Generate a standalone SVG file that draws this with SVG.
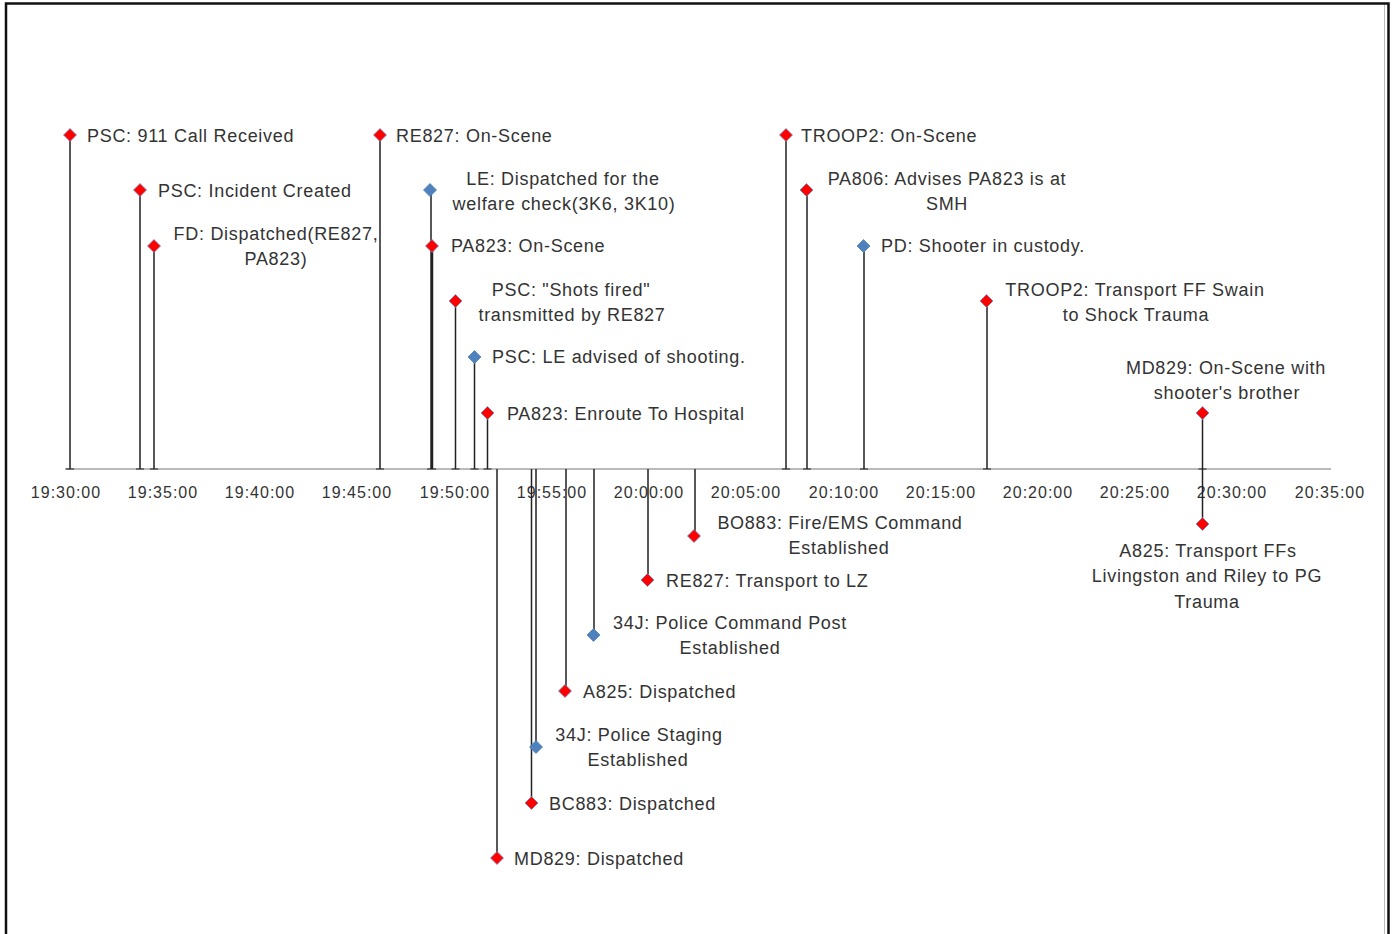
<svg xmlns="http://www.w3.org/2000/svg" width="1393" height="934" viewBox="0 0 1393 934">
<style>
.lbl{font-family:"Liberation Sans",Arial,sans-serif;font-size:18px;letter-spacing:0.7px;fill:#333}
.ax{font-family:"Liberation Sans",Arial,sans-serif;font-size:16px;letter-spacing:1px;fill:#333;text-anchor:middle}
.m{text-anchor:middle}
.stem{stroke:#222;stroke-width:1.5;fill:none}
.cap{stroke:#222;stroke-width:1.2}
.red{fill:#FF0000;stroke:#6F8FC0;stroke-width:0.8}
.blue{fill:#4F81BD;stroke:#4F81BD;stroke-width:0.8}
</style>
<defs>
<path id="d" d="M0,-6.5 L6.5,0 L0,6.5 L-6.5,0 Z"/>
</defs>
<rect x="0" y="0" width="1393" height="934" fill="#fff"/>
<g id="frame">
<line x1="1384.5" y1="4" x2="1384.5" y2="934" stroke="#bbb" stroke-width="1"/>
<polyline points="6,934 6,3.5 1388.5,3.5 1388.5,934" fill="none" stroke="#111" stroke-width="2.5"/>
</g>
<g id="axis">
<line x1="65" y1="469" x2="1331" y2="469" stroke="#777" stroke-width="1.2"/>
<text class="ax" x="66" y="498">19:30:00</text>
<text class="ax" x="163" y="498">19:35:00</text>
<text class="ax" x="260" y="498">19:40:00</text>
<text class="ax" x="357" y="498">19:45:00</text>
<text class="ax" x="455" y="498">19:50:00</text>
<text class="ax" x="552" y="498">19:55:00</text>
<text class="ax" x="649" y="498">20:00:00</text>
<text class="ax" x="746" y="498">20:05:00</text>
<text class="ax" x="844" y="498">20:10:00</text>
<text class="ax" x="941" y="498">20:15:00</text>
<text class="ax" x="1038" y="498">20:20:00</text>
<text class="ax" x="1135" y="498">20:25:00</text>
<text class="ax" x="1232" y="498">20:30:00</text>
<text class="ax" x="1330" y="498">20:35:00</text>
</g>
<g id="connectors">
<path class="stem" d="M70,135V469 M140,190V469 M154,246V469 M380,135V469 M431,190V469 M432.5,246V469 M455.5,301V469 M474.5,357V469 M487.5,413V469 M497,469V858 M531.5,469V803 M536,469V747 M566,469V691 M594,469V635 M648,469V580 M695,469V536 M786,135V469 M807,190V469 M864,246V469 M987,301V469 M1202.5,413V524"/>
<path class="cap" d="M66,469h8 M136,469h8 M150,469h8 M376,469h8 M427,469h9 M451.5,469h8 M470.5,469h8 M483.5,469h8 M782,469h8 M803,469h8 M860,469h8 M983,469h8 M1198.5,469h8"/>
</g>
<g id="e1"><use href="#d" x="70" y="135" class="red"/><text class="lbl" x="87" y="142">PSC: 911  Call Received</text></g>
<g id="e2"><use href="#d" x="140" y="190" class="red"/><text class="lbl" x="158" y="197">PSC: Incident Created</text></g>
<g id="e3"><use href="#d" x="154" y="246" class="red"/><text class="lbl m" x="276" y="240">FD: Dispatched(RE827,</text><text class="lbl m" x="276" y="265">PA823)</text></g>
<g id="e4"><use href="#d" x="380" y="135" class="red"/><text class="lbl" x="396" y="142">RE827:  On-Scene</text></g>
<g id="e5"><use href="#d" x="430" y="190" class="blue"/><text class="lbl m" x="563" y="185">LE: Dispatched for the</text><text class="lbl m" x="564" y="210">welfare check(3K6, 3K10)</text></g>
<g id="e6"><use href="#d" x="432" y="246" class="red"/><text class="lbl" x="451" y="252">PA823:  On-Scene</text></g>
<g id="e7"><use href="#d" x="455.5" y="301" class="red"/><text class="lbl m" x="571" y="296">PSC: "Shots fired"</text><text class="lbl m" x="572" y="321">transmitted by RE827</text></g>
<g id="e8"><use href="#d" x="474.5" y="357" class="blue"/><text class="lbl" x="492" y="363">PSC: LE advised of shooting.</text></g>
<g id="e9"><use href="#d" x="487.5" y="413" class="red"/><text class="lbl" x="507" y="420">PA823:  Enroute To Hospital</text></g>
<g id="e10"><use href="#d" x="497" y="858" class="red"/><text class="lbl" x="514" y="865">MD829:  Dispatched</text></g>
<g id="e11"><use href="#d" x="531.5" y="803" class="red"/><text class="lbl" x="549" y="810">BC883:  Dispatched</text></g>
<g id="e12"><use href="#d" x="536" y="747" class="blue"/><text class="lbl m" x="639" y="741">34J:  Police Staging</text><text class="lbl m" x="638" y="766">Established</text></g>
<g id="e13"><use href="#d" x="565" y="691" class="red"/><text class="lbl" x="583" y="698">A825:  Dispatched</text></g>
<g id="e14"><use href="#d" x="593.5" y="635" class="blue"/><text class="lbl m" x="730" y="629">34J:  Police Command Post</text><text class="lbl m" x="730" y="654">Established</text></g>
<g id="e15"><use href="#d" x="647.5" y="580" class="red"/><text class="lbl" x="666" y="587">RE827:  Transport to LZ</text></g>
<g id="e16"><use href="#d" x="694" y="536" class="red"/><text class="lbl m" x="840" y="529">BO883:  Fire/EMS Command</text><text class="lbl m" x="839" y="554">Established</text></g>
<g id="e17"><use href="#d" x="786" y="135" class="red"/><text class="lbl" x="801" y="142">TROOP2: On-Scene</text></g>
<g id="e18"><use href="#d" x="806.5" y="190" class="red"/><text class="lbl m" x="947" y="185">PA806:  Advises PA823 is at</text><text class="lbl m" x="947" y="210">SMH</text></g>
<g id="e19"><use href="#d" x="863.5" y="246" class="blue"/><text class="lbl" x="881" y="252">PD: Shooter in custody.</text></g>
<g id="e20"><use href="#d" x="986.5" y="301" class="red"/><text class="lbl m" x="1135" y="296">TROOP2: Transport FF Swain</text><text class="lbl m" x="1136" y="321">to Shock Trauma</text></g>
<g id="e21"><use href="#d" x="1202.5" y="413" class="red"/><text class="lbl m" x="1226" y="374">MD829:  On-Scene with</text><text class="lbl m" x="1227" y="399">shooter's brother</text></g>
<g id="e22"><use href="#d" x="1202.5" y="524" class="red"/><text class="lbl m" x="1208" y="557">A825: Transport FFs</text><text class="lbl m" x="1207" y="582">Livingston and Riley to PG</text><text class="lbl m" x="1207" y="608">Trauma</text></g>
</svg>
